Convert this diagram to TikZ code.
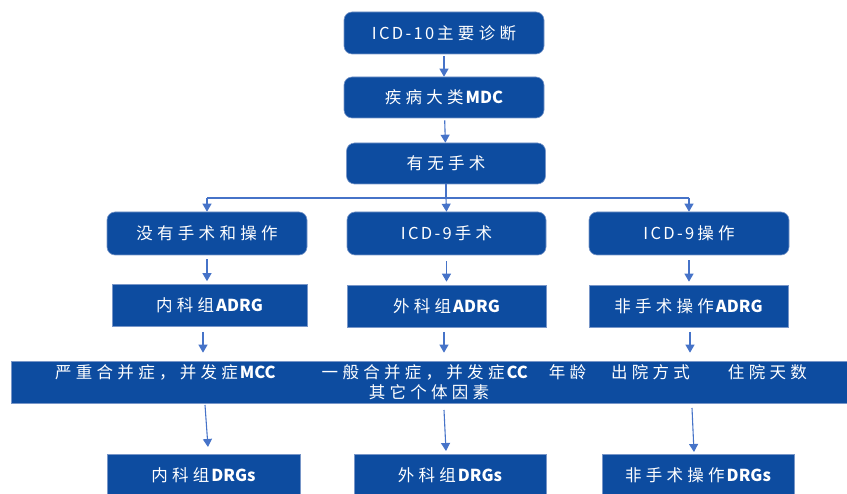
\documentclass[tikz,border=0pt]{standalone}
\usepackage{fontspec}
\setmainfont{Noto Sans CJK SC}
\newfontfamily\zhfont{Noto Sans CJK SC}[LetterSpace=26]
\newfontfamily\icdfont{Noto Sans CJK SC}[LetterSpace=14]
\newcommand\zh[1]{{\zhfont #1}}
\newcommand\icd[1]{{\icdfont #1}\hspace{3pt}}
\newcommand\lat[1]{\hspace{2pt}{\bfseries #1}}
\usetikzlibrary{arrows.meta}
\definecolor{boxblue}{RGB}{13,76,160}
\definecolor{edgeblue}{RGB}{120,150,200}
\definecolor{arrowblue}{RGB}{70,115,200}
\tikzset{
  base/.style={fill=boxblue, draw=edgeblue, line width=0.6pt, text=white,
    font=\fontsize{16.5pt}{20pt}\selectfont, inner sep=0pt, align=center},
  roundbox/.style={base, rounded corners=8pt},
  squarebox/.style={base},
  link/.style={draw=arrowblue, line width=1.1pt,
    -{Triangle[width=9pt,length=8pt]}},
  plain/.style={draw=arrowblue, line width=1.1pt}
}
\begin{document}
\begin{tikzpicture}[x=1pt,y=-1pt]
\useasboundingbox (0,0) rectangle (847,494);
\clip (0,0) rectangle (847,494);

% top chain
\node[roundbox, minimum width=200pt, minimum height=42pt] (icd10) at (444,33) {\icd{ICD-10}\zh{主要诊断}};
\node[roundbox, minimum width=200pt, minimum height=41pt] (mdc) at (444,97.5) {\zh{疾病大类}\lat{MDC}};
\node[roundbox, minimum width=199pt, minimum height=41pt] (op) at (446,163.5) {\zh{有无手术}};

% second row
\node[roundbox, minimum width=200pt, minimum height=43pt] (noop) at (207,233.5) {\zh{没有手术和操作}};
\node[roundbox, minimum width=199pt, minimum height=43pt] (surg) at (446.5,233.5) {\icd{ICD-9}\zh{手术}};
\node[roundbox, minimum width=200pt, minimum height=43pt] (proc) at (689,233.5) {\icd{ICD-9}\zh{操作}};

% ADRG row
\node[squarebox, minimum width=195pt, minimum height=42pt] (adrgA) at (209.5,305.5) {\zh{内科组}\lat{ADRG}};
\node[squarebox, minimum width=199pt, minimum height=42pt] (adrgB) at (446.5,306) {\zh{外科组}\lat{ADRG}};
\node[squarebox, minimum width=199pt, minimum height=42pt] (adrgC) at (688.5,306) {\zh{非手术操作}\lat{ADRG}};

% factor bar
\node[squarebox, minimum width=836pt, minimum height=42pt] (bar) at (429,382)
  {\hspace*{4pt}\zh{严重合并症，并发症}\lat{MCC}\hspace{46pt}\zh{一般合并症，并发症}\lat{CC}\hspace{21pt}\zh{年龄}\hspace{25pt}\zh{出院方式}\hspace{38pt}\zh{住院天数}\\\zh{其它个体因素}};

% DRG row
\node[squarebox, minimum width=193pt, minimum height=43pt] (drgA) at (203.5,475.5) {\zh{内科组}\lat{DRGs}};
\node[squarebox, minimum width=192pt, minimum height=43pt] (drgB) at (450,475.5) {\zh{外科组}\lat{DRGs}};
\node[squarebox, minimum width=192pt, minimum height=43pt] (drgC) at (698,475.5) {\zh{非手术操作}\lat{DRGs}};

% connectors of the top chain
\draw[link, shorten <=2pt] (icd10) -- (mdc);
\draw[link, shorten <=2pt] (mdc) -- (op);

% branching line
\coordinate (split) at (446,198);
\coordinate (splitL) at (207,198);
\coordinate (splitR) at (689,198);
\draw[plain] (op.south) -- (split);
\draw[plain] (splitL) -- (splitR);
\draw[link] (splitL) -- (noop.north);
\draw[link] (split) -- (surg.north);
\draw[link] (splitR) -- (proc.north);

% second row to ADRG row
\draw[link, shorten <=4pt, shorten >=3pt] (noop.south) -- (noop.south |- adrgA.north);
\draw[link, shorten <=6pt, shorten >=3pt] (surg.south) -- (surg.south |- adrgB.north);
\draw[link, shorten <=5pt, shorten >=3pt] (proc.south) -- (proc.south |- adrgC.north);

% ADRG row to factor bar
\coordinate (fa) at (203,332);
\coordinate (fb) at (444,332);
\coordinate (fc) at (690,332);
\draw[link, shorten >=8pt] (fa) -- (fa |- bar.north);
\draw[link, shorten >=8pt] (fb) -- (fb |- bar.north);
\draw[link, shorten >=8pt] (fc) -- (fc |- bar.north);

% factor bar to DRG row
\coordinate (ga) at (205,405);
\coordinate (gb) at (444,410);
\coordinate (gc) at (692,408);
\coordinate (ha) at (208,447);
\coordinate (hb) at (446,451);
\coordinate (hc) at (694,452);
\draw[link] (ga) -- (ha);
\draw[link] (gb) -- (hb);
\draw[link] (gc) -- (hc);
\end{tikzpicture}
\end{document}
